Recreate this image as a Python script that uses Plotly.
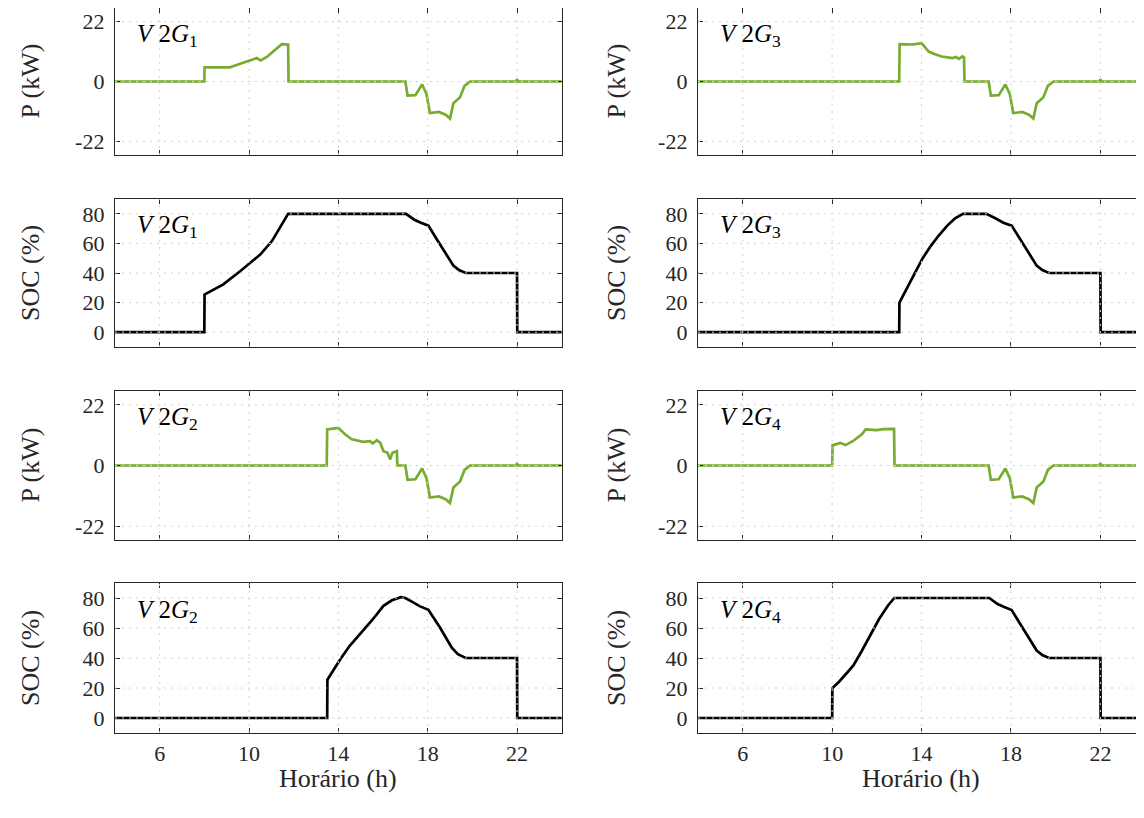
import plotly.graph_objects as go

# ---------------- data ----------------
x_ticks = [6, 10, 14, 18, 22]
p_ticks = [-22, 0, 22]
p_ticklabels = ["-22", "0", "22"]
soc_ticks = [0, 20, 40, 60, 80]

# V2G1
v1_p_h = [4, 8.0, 8.01, 9.15, 9.7, 10.1, 10.35, 10.52, 10.8, 11.08, 11.47, 11.75, 11.77,
          17.0, 17.1, 17.45, 17.75, 17.95, 18.1, 18.5, 18.8, 19.0, 19.15, 19.45, 19.65, 19.9,
          21.95, 22.0, 22.05, 24]
v1_p = [0, 0, 5.2, 5.2, 6.8, 8.0, 8.6, 7.7, 9.0, 11.0, 13.7, 13.6, 0,
        0, -5.2, -5.0, -1.1, -4.7, -11.6, -11.2, -12.2, -13.6, -8.0, -5.8, -1.6, 0,
        0, 0.8, 0, 0]
v1_s_h = [4, 8.0, 8.01, 8.85, 9.6, 10.05, 10.5, 11.02, 11.39, 11.75, 17.03, 17.4, 17.7,
          18.03, 18.4, 18.7, 19.15, 19.4, 19.7, 22.0, 22.01, 24]
v1_s = [0, 0, 25.5, 32.3, 41.2, 46.8, 52.4, 61.4, 70.4, 80, 80, 76, 74,
        72, 63, 56, 45, 42, 40, 40, 0, 0]

# V2G2
v2_p_h = [4, 13.48, 13.5, 14.0, 14.3, 14.6, 15.12, 15.42, 15.54, 15.72, 15.87, 16.02, 16.2,
          16.32, 16.42, 16.62, 16.64,
          17.0, 17.1, 17.45, 17.75, 17.95, 18.1, 18.5, 18.8, 19.0, 19.15, 19.45, 19.65, 19.9,
          21.95, 22.0, 22.05, 24]
v2_p = [0, 0, 13.1, 13.6, 11.3, 9.5, 8.6, 8.8, 8.0, 9.2, 8.3, 5.2, 4.6,
        2.2, 4.6, 5.2, 0,
        0, -5.2, -5.0, -1.1, -4.7, -11.6, -11.2, -12.2, -13.6, -8.0, -5.8, -1.6, 0,
        0, 0.8, 0, 0]
v2_s_h = [4, 13.5, 13.51, 14.08, 14.5, 14.97, 15.5, 16.02, 16.4, 16.8, 17.0, 17.21, 17.66,
          18.03, 18.55, 19.08, 19.35, 19.7, 22.0, 22.01, 24]
v2_s = [0, 0, 25.5, 39, 48, 55.8, 65, 74.8, 78.5, 80.5, 80, 78.2, 74.4,
        72.1, 60.3, 46.9, 42.5, 40, 40, 0, 0]

# V2G3
v3_p_h = [4, 13.0, 13.02, 13.6, 14.0, 14.32, 14.57, 14.9, 15.38, 15.54, 15.67, 15.83, 15.9, 15.92,
          17.0, 17.1, 17.45, 17.75, 17.95, 18.1, 18.5, 18.8, 19.0, 19.15, 19.45, 19.65, 19.9,
          21.95, 22.0, 22.05, 24]
v3_p = [0, 0, 13.7, 13.6, 14.1, 11.0, 10.1, 9.2, 8.6, 9.0, 8.3, 9.2, 8.8, 0,
        0, -5.2, -5.0, -1.1, -4.7, -11.6, -11.2, -12.2, -13.6, -8.0, -5.8, -1.6, 0,
        0, 0.8, 0, 0]
v3_s_h = [4, 13.0, 13.01, 13.35, 13.7, 14.05, 14.4, 14.75, 15.15, 15.5, 15.85, 16.9, 17.3, 17.66,
          18.03, 18.4, 18.7, 19.15, 19.4, 19.7, 22.0, 22.01, 24]
v3_s = [0, 0, 20, 30, 40, 50, 58, 65, 72, 77, 80, 80, 77, 74,
        72, 63, 56, 45, 42, 40, 40, 0, 0]

# V2G4
v4_p_h = [4, 10.0, 10.02, 10.36, 10.6, 10.92, 11.33, 11.5, 11.99, 12.3, 12.77, 12.79,
          17.0, 17.1, 17.45, 17.75, 17.95, 18.1, 18.5, 18.8, 19.0, 19.15, 19.45, 19.65, 19.9,
          21.95, 22.0, 22.05, 24]
v4_p = [0, 0, 7.3, 8.2, 7.4, 8.8, 11.3, 13.1, 12.8, 13.2, 13.3, 0,
        0, -5.2, -5.0, -1.1, -4.7, -11.6, -11.2, -12.2, -13.6, -8.0, -5.8, -1.6, 0,
        0, 0.8, 0, 0]
v4_s_h = [4, 10.0, 10.01, 10.3, 10.6, 10.95, 11.3, 11.7, 12.1, 12.5, 12.78, 17.03, 17.4, 17.7,
          18.03, 18.4, 18.7, 19.15, 19.4, 19.7, 22.0, 22.01, 24]
v4_s = [0, 0, 20, 24, 29, 35, 44, 55, 66, 75, 80, 80, 76, 74,
        72, 63, 56, 45, 42, 40, 40, 0, 0]

labels = ["1", "2", "3", "4"]

# ---------------- layout helpers ----------------
OFF = 8  # page body margin
W, H = 1144 - OFF, 818 - OFF
FONT = "Liberation Serif, Times New Roman, DejaVu Serif, serif"
GREEN = "#77AC30"
AXC = "#262626"
GRIDC = "rgb(210,210,210)"

rows_px = [(8, 155), (199, 347), (391, 540), (583, 733)]
cols_px = [(115, 561.7), (698, 1144)]
col_ranges = [[4, 24], [4, 23.95]]
ytitle_x_px = [30, 616]
xtitle_y_px = 778

fig = go.Figure()
shapes = []
annotations = []

panels = [
    (0, 0, "P", v1_p_h, v1_p, labels[0]),
    (1, 0, "S", v1_s_h, v1_s, labels[0]),
    (2, 0, "P", v2_p_h, v2_p, labels[1]),
    (3, 0, "S", v2_s_h, v2_s, labels[1]),
    (0, 1, "P", v3_p_h, v3_p, labels[2]),
    (1, 1, "S", v3_s_h, v3_s, labels[2]),
    (2, 1, "P", v4_p_h, v4_p, labels[3]),
    (3, 1, "S", v4_s_h, v4_s, labels[3]),
]

tickfont = dict(family=FONT, size=22, color=AXC)
titlefont = dict(family=FONT, size=26, color=AXC)

for i, (r, c, kind, xs, ys, lab) in enumerate(panels):
    n = i + 1
    xa = "xaxis" if n == 1 else f"xaxis{n}"
    ya = "yaxis" if n == 1 else f"yaxis{n}"
    xr = "x" if n == 1 else f"x{n}"
    yr = "y" if n == 1 else f"y{n}"
    top, bot = rows_px[r]
    left, right = cols_px[c]
    top, bot, left, right = top - OFF, bot - OFF, left - OFF, right - OFF
    bottom_row = (r == 3)

    fig.add_trace(go.Scatter(
        x=xs, y=ys, mode="lines", xaxis=xr, yaxis=yr, showlegend=False,
        line=dict(color=GREEN if kind == "P" else "black", width=2.7),
    ))

    xaxis = dict(
        domain=[left / W, min(right / W, 1.0)], range=col_ranges[c], anchor=yr,
        tickvals=x_ticks, ticks="inside", ticklen=5, tickcolor=AXC, tickwidth=1,
        showline=True, linecolor=AXC, linewidth=1.3, mirror="allticks",
        showgrid=False, zeroline=False, showticklabels=bottom_row, tickfont=tickfont,
    )
    if kind == "P":
        yrange = [-27, 27]
        yt = p_ticks
        ytt = p_ticklabels
        ytitle = "P (kW)"
    else:
        yrange = [-10, 90]
        yt = soc_ticks
        ytt = [str(v) for v in soc_ticks]
        ytitle = "SOC (%)"
    yaxis = dict(
        domain=[1 - bot / H, 1 - top / H], range=yrange, anchor=xr,
        tickvals=yt, ticktext=ytt, ticks="inside", ticklen=5, tickcolor=AXC, tickwidth=1,
        showline=True, linecolor=AXC, linewidth=1.3, mirror="allticks",
        showgrid=False, zeroline=False, tickfont=tickfont, ticklabelstandoff=5,
    )
    fig.layout[xa] = xaxis
    fig.layout[ya] = yaxis

    # y-axis title
    annotations.append(dict(
        xref="paper", yref="paper",
        x=(ytitle_x_px[c] - OFF) / W, y=1 - ((top + bot) / 2) / H,
        xanchor="center", yanchor="middle", textangle=-90, showarrow=False,
        text=ytitle, font=titlefont,
    ))
    # x-axis title (bottom row only)
    if bottom_row:
        annotations.append(dict(
            xref="paper", yref="paper",
            x=((left + right) / 2) / W, y=1 - (xtitle_y_px - OFF) / H,
            xanchor="center", yanchor="middle", showarrow=False,
            text="Horário (h)", font=titlefont,
        ))

    # grid lines drawn above the traces (dotted)
    for xv in x_ticks:
        shapes.append(dict(type="line", xref=xr, yref=f"{yr} domain", x0=xv, x1=xv, y0=0, y1=1,
                           line=dict(color=GRIDC, width=1, dash="2px,5px"), layer="above"))
    for yv in yt:
        shapes.append(dict(type="line", xref=f"{xr} domain", yref=yr, x0=0, x1=1, y0=yv, y1=yv,
                           line=dict(color=GRIDC, width=1, dash="2px,5px"), layer="above"))

    annotations.append(dict(
        xref=f"{xr} domain", yref=f"{yr} domain", x=0.045, y=0.93,
        xanchor="left", yanchor="top", showarrow=False,
        text=f"<i>V</i> 2<i>G</i><sub>{lab}</sub>",
        font=dict(family=FONT, size=25, color="black"),
    ))

fig.update_layout(
    width=W, height=H,
    margin=dict(l=0, r=0, t=0, b=0),
    paper_bgcolor="white", plot_bgcolor="white",
    shapes=shapes, annotations=annotations,
)

fig.write_html("out.html")
